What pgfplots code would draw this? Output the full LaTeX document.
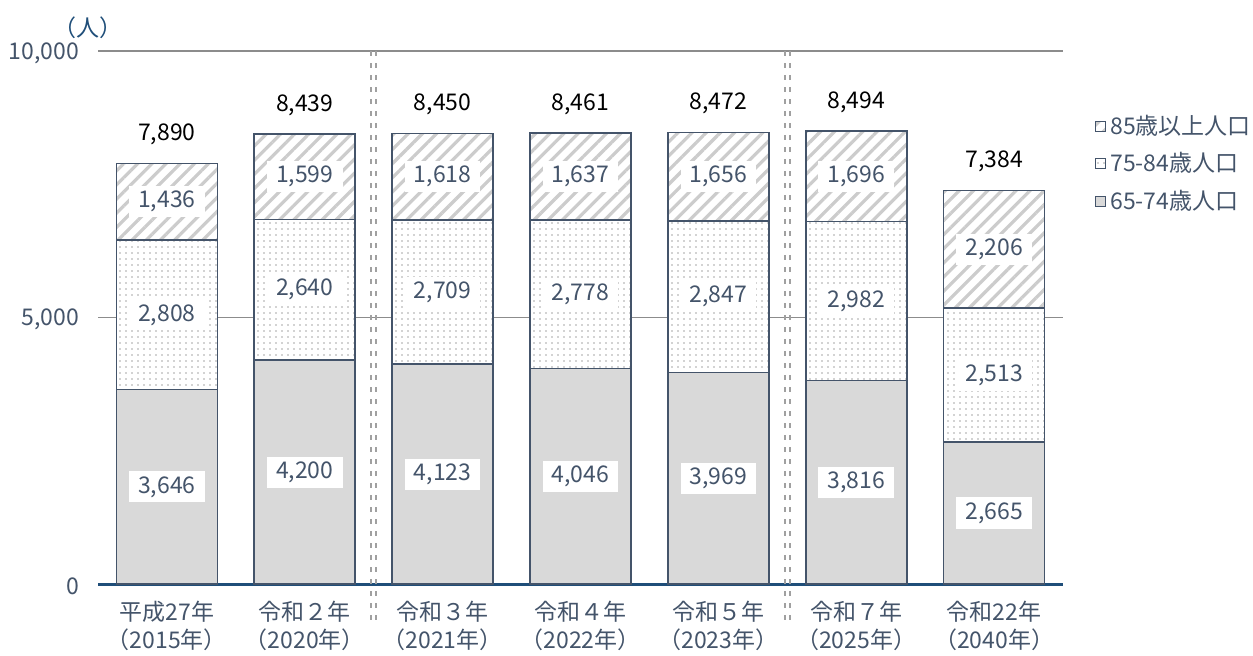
\documentclass[border=0pt]{standalone}
\usepackage{pgfplots}
\pgfplotsset{compat=1.18}
\usepackage{fontspec}
\setmainfont{Noto Sans CJK JP}
\usetikzlibrary{patterns.meta}
\definecolor{slate}{HTML}{44546A}
\definecolor{navy}{HTML}{1F4E79}
\definecolor{sepc}{HTML}{A0A0A0}
\definecolor{gridc}{HTML}{8C8C8C}
\definecolor{fillg}{HTML}{D9D9D9}
\newcommand{\fs}{\fontsize{11.5pt}{14pt}\selectfont}
\pgfplotsset{
 common/.style={at={(49pt,-292pt)}, anchor=south west, scale only axis,
   width=482.5pt, height=266.5pt, xmin=-0.5, xmax=6.5, ymin=0, ymax=10000},
}
\begin{document}
\begin{tikzpicture}
\path[use as bounding box] (0,0) rectangle (626.5pt,-327.5pt);
\begin{axis}[common, ybar stacked, bar width=50.5pt,
  axis lines*=left,
  y axis line style={draw=none},
  x axis line style={draw=navy, line width=1.5pt},
  major tick length=0pt,
  scaled y ticks=false,
  ytick={0,5000,10000}, yticklabels={0,{5,000},{10,000}},
  yticklabel style={font=\fs, text=slate, xshift=-6pt, yshift=-1pt},
  xtick={0,...,6},
  xticklabels={{平成27年\\（2015年）},{令和２年\\（2020年）},{令和３年\\（2021年）},{令和４年\\（2022年）},{令和５年\\（2023年）},{令和７年\\（2025年）},{令和22年\\（2040年）}},
  xticklabel style={font=\fs, text=slate, align=center, yshift=-5pt},
  ymajorgrids, grid style={gridc, line width=0.6pt},
  legend style={at={(1.033,0.888)}, anchor=north west, draw=none, fill=none,
    font=\fs, text=slate, row sep=3.6pt, inner sep=0pt, cells={anchor=west}},
  reverse legend,
  legend image code/.code={\draw[#1, draw=slate, line width=0.5pt] (0pt,-2.5pt) rectangle (5pt,2.5pt);},
]
\addplot[fill=fillg, draw=slate, line width=0.8pt] coordinates {(0,3646) (1,4200) (2,4123) (3,4046) (4,3969) (5,3816) (6,2665)};
\addplot[fill=white, postaction={pattern={Dots[distance=3pt,radius=0.45pt]}, pattern color=gray!70}, draw=slate, line width=0.8pt] coordinates {(0,2808) (1,2640) (2,2709) (3,2778) (4,2847) (5,2982) (6,2513)};
\addplot[fill=white, postaction={pattern={Lines[angle=45,distance=5pt,line width=1.6pt]}, pattern color=gray!40}, draw=slate, line width=0.8pt] coordinates {(0,1436) (1,1599) (2,1618) (3,1637) (4,1656) (5,1696) (6,2206)};
\legend{65-74歳人口,75-84歳人口,85歳以上人口}
\end{axis}
\begin{axis}[common, hide axis, clip=false]
\addplot[draw=none, nodes near coords, point meta=explicit symbolic,
  every node near coord/.append style={anchor=center, fill=white, text=slate, inner xsep=4.5pt, inner ysep=2.5pt, font=\fs}]
 table[meta=l] {
x y l
0 1823 3,646
1 2100 4,200
2 2061.5 4,123
3 2023 4,046
4 1984.5 3,969
5 1908 3,816
6 1332.5 2,665
0 5050 2,808
1 5520 2,640
2 5477.5 2,709
3 5435 2,778
4 5392.5 2,847
5 5307 2,982
6 3921.5 2,513
0 7172 1,436
1 7639.5 1,599
2 7641 1,618
3 7642.5 1,637
4 7644 1,656
5 7646 1,696
6 6281 2,206
};
\addplot[draw=none, nodes near coords, point meta=explicit symbolic,
  every node near coord/.append style={anchor=south, text=black, inner sep=0pt, yshift=9pt, font=\fs}]
 table[meta=l] {
x y l
0 7890 7,890
1 8439 8,439
2 8450 8,450
3 8461 8,461
4 8472 8,472
5 8494 8,494
6 7384 7,384
};
\addplot[sepc, line width=1pt, dash pattern=on 2.5pt off 3.5pt, xshift=-1.2pt] coordinates {(1.5,10000) (1.5,-713)};
\addplot[sepc, line width=1pt, dash pattern=on 2.5pt off 3.5pt, xshift=1.2pt] coordinates {(1.5,10000) (1.5,-713)};
\addplot[sepc, line width=1pt, dash pattern=on 2.5pt off 3.5pt, xshift=-1.2pt] coordinates {(4.5,10000) (4.5,-713)};
\addplot[sepc, line width=1pt, dash pattern=on 2.5pt off 3.5pt, xshift=1.2pt] coordinates {(4.5,10000) (4.5,-713)};
\end{axis}
\node[text=navy, font=\fs] at (44pt,-14pt) {（人）};
\end{tikzpicture}
\end{document}
